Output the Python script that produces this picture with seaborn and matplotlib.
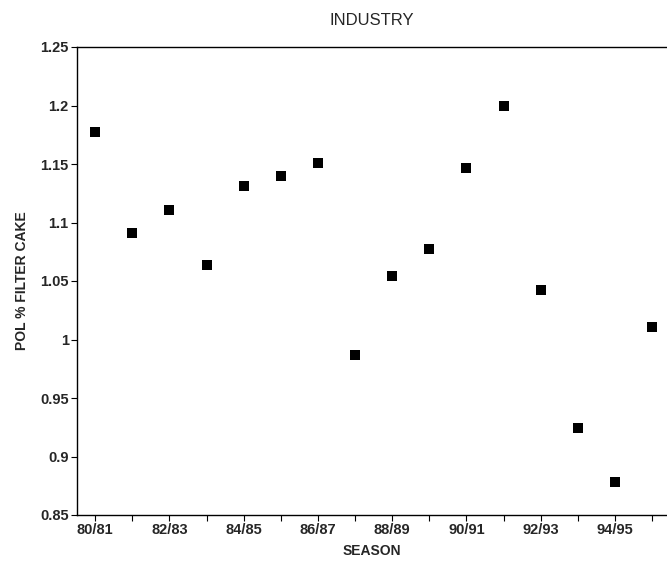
import numpy as np
import pandas as pd
import matplotlib
matplotlib.use('Agg')
import matplotlib.pyplot as plt
import seaborn as sns

seasons = ['80/81', '81/82', '82/83', '83/84', '84/85', '85/86', '86/87', '87/88',
           '88/89', '89/90', '90/91', '91/92', '92/93', '93/94', '94/95', '95/96']
pol = [1.177, 1.091, 1.111, 1.064, 1.131, 1.140, 1.151, 0.987,
       1.054, 1.077, 1.147, 1.200, 1.042, 0.924, 0.878, 1.011]
y_ticks = [0.85, 0.9, 0.95, 1.0, 1.05, 1.1, 1.15, 1.2, 1.25]
y_labels = ['0.85', '0.9', '0.95', '1', '1.05', '1.1', '1.15', '1.2', '1.25']

df = pd.DataFrame({'idx': np.arange(len(seasons)), 'pol': pol})

sns.set_style('white')
plt.rcParams['font.family'] = ['Liberation Sans', 'DejaVu Sans']

fig = plt.figure(figsize=(6.67, 5.63), dpi=100)
ax = fig.add_axes([77 / 667, 1 - 515 / 563, (667 - 77) / 667, (515 - 47) / 563])

sns.scatterplot(data=df, x='idx', y='pol', marker='s', s=58, color='black',
                edgecolor='black', linewidth=0, ax=ax)

ax.set_xlim(-0.49, 15.4)
ax.set_ylim(0.85, 1.25)

ax.set_xticks(np.arange(len(seasons)))
ax.set_xticklabels([s if i % 2 == 0 else '' for i, s in enumerate(seasons)],
                   fontsize=10.5, fontweight='bold')
ax.set_yticks(y_ticks)
ax.set_yticklabels(y_labels, fontsize=10.5, fontweight='bold')
ax.tick_params(axis='both', direction='out', length=4, width=0.8, color='black',
               pad=2, bottom=True, left=True)

for side in ['left', 'bottom', 'top']:
    ax.spines[side].set_color('black')
    ax.spines[side].set_linewidth(1.0)
ax.spines['right'].set_visible(False)

ax.set_xlabel('SEASON', fontsize=10, fontweight='bold', labelpad=5)
ax.set_ylabel('POL % FILTER CAKE', fontsize=10, fontweight='bold', labelpad=8)
ax.set_title('INDUSTRY', fontsize=12, pad=16)

plt.savefig('out.png', dpi=100)
